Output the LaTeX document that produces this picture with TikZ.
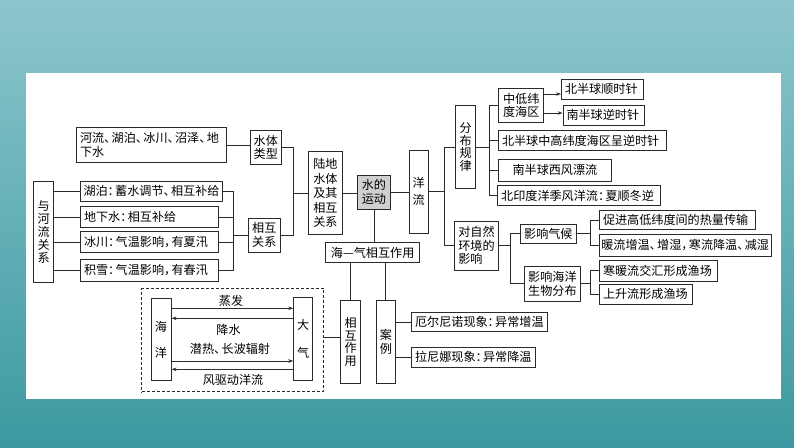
\documentclass[tikz,border=0pt]{standalone}
\usepackage{fontspec}
\newfontfamily\cjk{Noto Sans CJK SC}
\usetikzlibrary{arrows.meta}
\newcommand\cjpunct[1]{\makebox[0.62em][l]{#1}}
\definecolor{bgtop}{HTML}{8CC6CC}
\definecolor{bgmid}{HTML}{58ABB3}
\definecolor{bgbot}{HTML}{3C99A1}
\definecolor{ink}{HTML}{2A2A2A}
\begin{document}
\begin{tikzpicture}[x=1pt,y=-1pt,
  box/.style={draw=ink, line width=0.8pt, inner sep=0pt, font=\cjk\fontsize{12.1}{13.6}\selectfont, align=center, text=black},
  lbox/.style={box, align=left, inner xsep=3.5pt, text width=#1},
  conn/.style={draw=ink, line width=0.8pt},
  arr/.style={conn, -{Stealth[length=5pt,width=3.5pt]}},
  lab/.style={font=\cjk\fontsize{12.1}{13.6}\selectfont, inner sep=0pt, text=black}]
\useasboundingbox (0,0) rectangle (794,447);
\shade[top color=bgtop, middle color=bgmid, bottom color=bgbot] (0,0) rectangle (794,447);
\fill[white] (26,73) rectangle (781,399);

% left part
\node[lbox=142.5pt, minimum height=34.6pt] (hl) at (151.25,145) {河流\cjpunct{、}湖泊\cjpunct{、}冰川\cjpunct{、}沼泽\cjpunct{、}地\\下水};
\node[box, minimum width=30.5pt, minimum height=33.6pt] (stlx) at (265.75,147.5) {水体\\类型};
\node[box, minimum width=20.3pt, minimum height=100.6pt, font=\cjk\fontsize{12.1}{12.9}\selectfont] (yhl) at (43.55,232) {与\\河\\流\\关\\系};
\node[lbox=136.3pt, inner xsep=3pt, minimum height=19.3pt] (hp) at (151.65,191.35) {湖泊\cjpunct{：}蓄水调节\cjpunct{、}相互补给};
\node[lbox=130.7pt, minimum height=21pt] (dxs) at (149.35,217.2) {地下水\cjpunct{：}相互补给};
\node[lbox=130.7pt, minimum height=21.4pt] (bc) at (149.35,242) {冰川\cjpunct{：}气温影响\cjpunct{，}有夏汛};
\node[lbox=130.7pt, minimum height=21.3pt] (jx) at (149.35,270.35) {积雪\cjpunct{：}气温影响\cjpunct{，}有春汛};
\node[box, minimum width=32.5pt, minimum height=33.7pt] (xhgx) at (264.25,235.15) {相互\\关系};
\node[box, minimum width=33.9pt, minimum height=82.6pt, font=\cjk\fontsize{12.1}{14.6}\selectfont] (ld) at (325.35,193) {陆地\\水体\\及其\\相互\\关系};
\node[box, fill=black!19, minimum width=32.9pt, minimum height=33.7pt] (sd) at (373.95,192.15) {水的\\运动};
\node[box, minimum width=19.4pt, minimum height=82.7pt, font=\cjk\fontsize{12.1}{16.6}\selectfont] (yl) at (418.7,191.65) {洋\\流};
\node[box, minimum width=94.1pt, minimum height=19.6pt] (hq) at (372.65,252.5) {海—气相互作用};

% right part
\node[box, minimum width=19.8pt, minimum height=82.6pt, font=\cjk\fontsize{12.1}{12.8}\selectfont] (fb) at (465.6,147) {分\\布\\规\\律};
\node[box, minimum width=45.1pt, minimum height=34pt] (zd) at (521.25,105.3) {中低纬\\度海区};
\node[lbox=74.5pt, minimum height=19.3pt] (bs) at (602.25,89.35) {北半球顺时针};
\node[lbox=74pt, minimum height=19.7pt] (ns) at (603.5,115.15) {南半球逆时针};
\node[lbox=160.8pt, minimum height=19.6pt] (bz) at (582.4,140.5) {北半球中高纬度海区呈逆时针};
\node[box, minimum width=112.4pt, minimum height=21.7pt] (xf) at (554.9,170.15) {南半球西风漂流};
\node[lbox=155.8pt, minimum height=20.4pt] (by) at (579.1,195.5) {北印度洋季风洋流\cjpunct{：}夏顺冬逆};
\node[box, align=left, minimum width=43.5pt, minimum height=49.3pt] (dz) at (476.45,245.65) {对自然\\环境的\\影响};
\node[box, minimum width=56.7pt, minimum height=19.7pt] (qh) at (548.35,233.85) {影响气候};
\node[lbox=148.9pt, minimum height=19.4pt] (rl) at (677.45,220) {促进高低纬度间的热量传输};
\node[lbox=167.9pt, inner xsep=1.8pt, minimum height=21.7pt] (nl) at (685.25,245.15) {暖流增温\cjpunct{、}增湿\cjpunct{，}寒流降温\cjpunct{、}减湿};
\node[box, minimum width=56.8pt, minimum height=35.3pt] (sw) at (552.4,283.65) {影响海洋\\生物分布};
\node[lbox=111pt, minimum height=20.7pt] (hn) at (658.5,270.65) {寒暖流交汇形成渔场};
\node[lbox=86.2pt, minimum height=20pt] (ss) at (646.1,294) {上升流形成渔场};

% bottom part
\node[draw=ink, line width=0.7pt, dash pattern=on 3pt off 2pt, minimum width=181.7pt, minimum height=103.4pt, inner sep=0pt] (dbox) at (232.65,340) {};
\node[box, minimum width=20.2pt, minimum height=82pt, font=\cjk\fontsize{12.1}{26}\selectfont] (hy) at (161,339.7) {海\\洋};
\node[box, minimum width=18.7pt, minimum height=82.3pt, font=\cjk\fontsize{12.1}{28}\selectfont] (dq) at (303.05,338.85) {大\\气};
\node[box, minimum width=19.7pt, minimum height=82.6pt, font=\cjk\fontsize{12.1}{12.8}\selectfont] (xz) at (350.65,342) {相\\互\\作\\用};
\node[box, minimum width=19.2pt, minimum height=82.6pt, font=\cjk\fontsize{12.1}{14}\selectfont] (al) at (385.8,342) {案\\例};
\node[lbox=129.2pt, minimum height=19.4pt] (en) at (479.7,322) {厄尔尼诺现象\cjpunct{：}异常增温};
\node[lbox=116.6pt, minimum height=19.3pt] (ln) at (473.4,357.35) {拉尼娜现象\cjpunct{：}异常降温};

\node[lab] (t1) at (231,300.5) {蒸发};
\node[lab] (t2) at (228.5,329.8) {降水};
\node[lab] (t3) at (230,349.3) {潜热\cjpunct{、}长波辐射};
\node[lab] (t4) at (233,380) {风驱动洋流};

% helper coordinates
\coordinate (jA) at (293.7,193);
\coordinate (jB) at (233.4,235.15);
\coordinate (jC) at (444.6,192);
\coordinate (jD) at (489.6,147);
\coordinate (jE) at (510.4,245.65);
\coordinate (jF) at (590,233.85);
\coordinate (yA) at (0,94);
\coordinate (yB) at (0,113);
\coordinate (yC) at (0,308.3);
\coordinate (yD) at (0,318.3);
\coordinate (yF) at (0,361);
\coordinate (yG) at (0,369.3);
\coordinate (yE) at (0,337.3);

% connectors left
\draw[conn] (hl.east) -- (hl.east -| stlx.west);
\draw[conn] (stlx.east) -| (jA |- xhgx.east) -- (xhgx.east);
\draw[conn] (jA) -- (ld.west);
\foreach \n in {hp,dxs,bc,jx} \draw[conn] (yhl.east |- \n.west) -- (\n.west);
\draw[conn] (hp.east) -| (jB |- jx.east) -- (jx.east);
\draw[conn] (dxs.east) -- (dxs.east -| jB);
\draw[conn] (bc.east) -- (bc.east -| jB);
\draw[conn] (jB) -- (xhgx.west);
\draw[conn] (ld.east) -- (ld.east -| sd.west);
\draw[conn] (sd.east) -- (sd.east -| yl.west);
\draw[conn] (sd.south) -- (sd.south |- hq.north);

% connectors right
\draw[conn] (yl.east) -- (yl.east -| jC);
\draw[conn] (fb.west) -| (jC |- dz.west) -- (dz.west);
\draw[conn] (fb.east) -- (jD);
\draw[conn] (zd.west) -| (jD |- by.west) -- (by.west);
\draw[conn] (bz.west) -- (bz.west -| jD);
\draw[conn] (xf.west) -- (xf.west -| jD);
\draw[arr] (zd.east |- yA) -- (bs.west |- yA);
\draw[arr] (zd.east |- yB) -- (ns.west |- yB);
\draw[conn] (dz.east) -- (jE);
\draw[conn] (qh.west) -| (jE |- sw.west) -- (sw.west);
\draw[conn] (qh.east) -- (jF);
\draw[conn] (rl.west) -| (jF |- nl.west) -- (nl.west);
\draw[conn] (sw.east) -- (sw.east -| jF);
\draw[conn] (hn.west) -| (jF |- ss.west) -- (ss.west);

% connectors bottom
\draw[conn] (hq.south -| xz.north) -- (xz.north);
\draw[conn] (hq.south -| al.north) -- (al.north);
\draw[conn] (dbox.east |- yE) -- (xz.west |- yE);
\draw[conn] (al.east |- en.west) -- (en.west);
\draw[conn] (al.east |- ln.west) -- (ln.west);
\draw[arr] (hy.east |- yC) -- (dq.west |- yC);
\draw[arr] (dq.west |- yD) -- (hy.east |- yD);
\draw[arr] (hy.east |- yF) -- (dq.west |- yF);
\draw[arr] (dq.west |- yG) -- (hy.east |- yG);
\end{tikzpicture}
\end{document}
